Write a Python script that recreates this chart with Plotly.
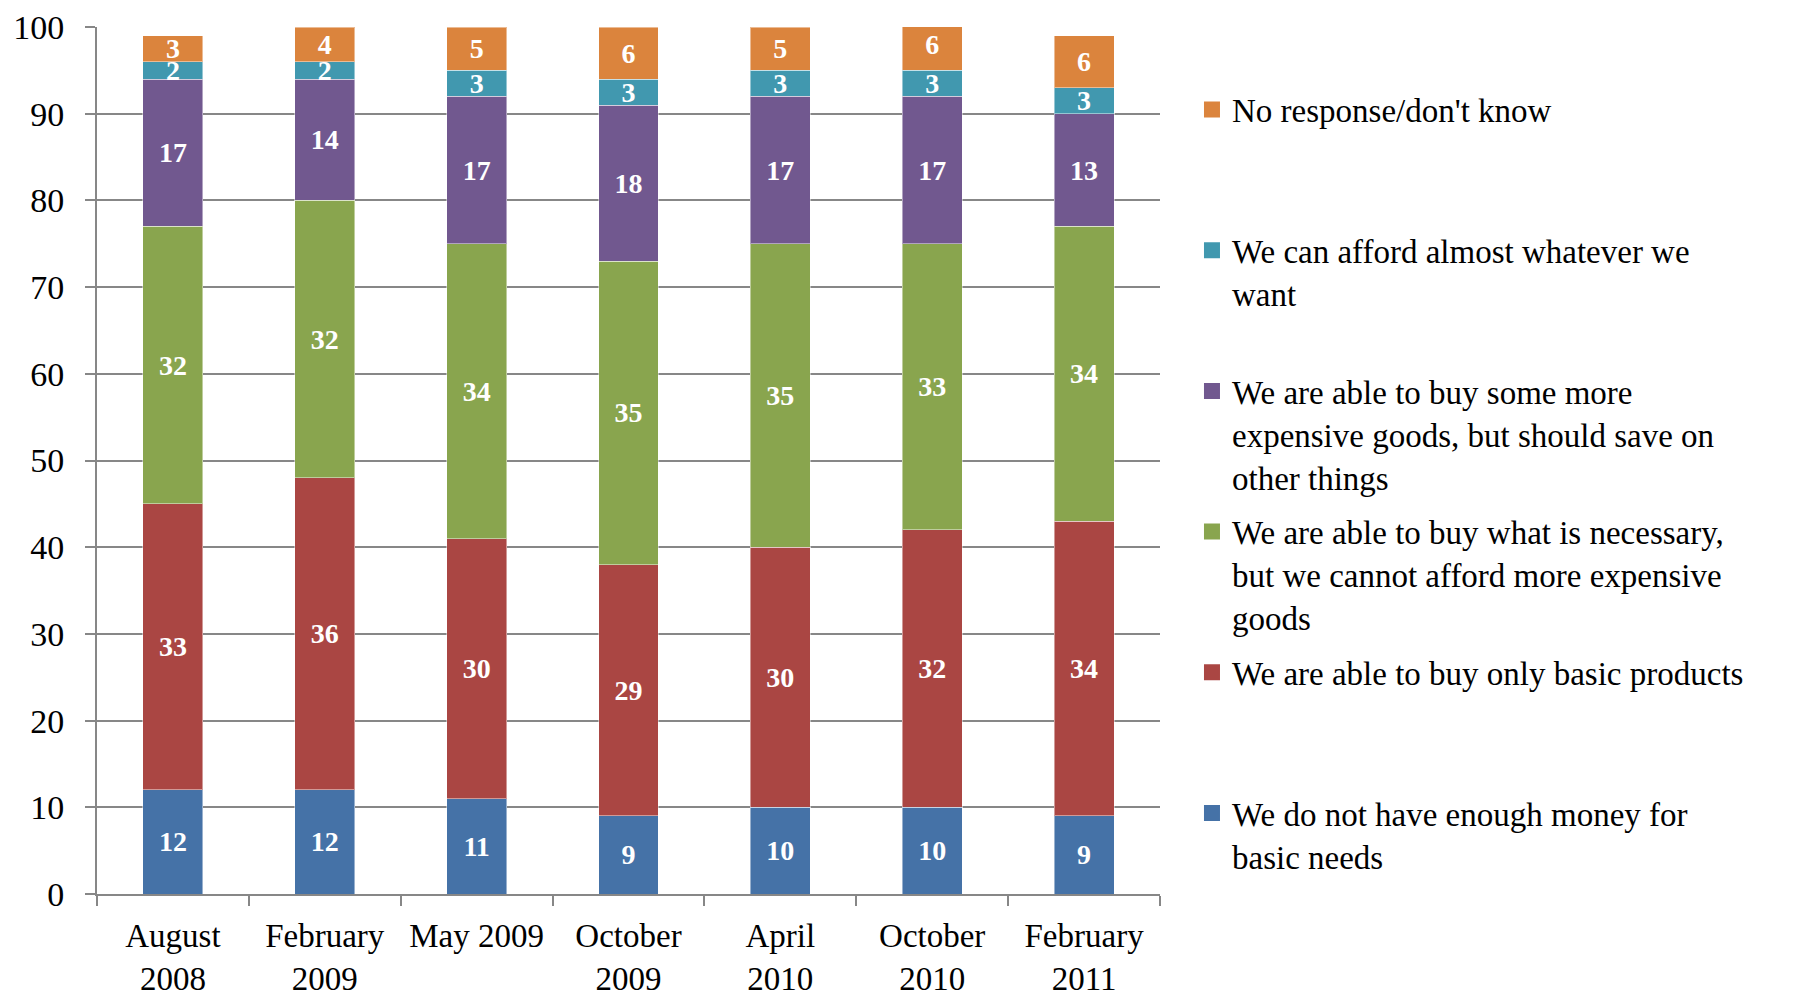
"""Stacked bar chart: how households describe their financial situation."""

import plotly.graph_objects as go

# Survey waves (x categories)
waves = [
    "August<br>2008",
    "February<br>2009",
    "May 2009",
    "October<br>2009",
    "April<br>2010",
    "October<br>2010",
    "February<br>2011",
]

# Shares per answer, bottom to top of each stack
no_money = [12, 12, 11, 9, 10, 10, 9]
only_basic = [33, 36, 30, 29, 30, 32, 34]
necessary = [32, 32, 34, 35, 35, 33, 34]
some_expensive = [17, 14, 17, 18, 17, 17, 13]
almost_anything = [2, 2, 3, 3, 3, 3, 3]
no_response = [3, 4, 5, 6, 5, 6, 6]

series_names = [
    "We do not have enough money for<br>basic needs",
    "We are able to buy only basic products",
    "We are able to buy what is necessary,<br>but we cannot afford more expensive<br>goods",
    "We are able to buy some more<br>expensive goods, but should save on<br>other things",
    "We can afford almost whatever we<br>want",
    "No response/don't know",
]
series_values = [no_money, only_basic, necessary, some_expensive, almost_anything, no_response]
series_colors = ["#4572A7", "#AA4643", "#89A54E", "#71588F", "#4198AF", "#DB843D"]

FONT = "Liberation Serif"


def pad_lines(name, n=3):
    # every legend entry gets the same number of lines so the slots are even
    lines = name.count("<br>") + 1
    return name + "<br>\u00a0" * (n - lines)


fig = go.Figure()
for i, (name, vals, color) in enumerate(zip(series_names, series_values, series_colors)):
    fig.add_trace(
        go.Bar(
            x=waves,
            y=vals,
            name=name,
            showlegend=False,
            marker=dict(color=color, line=dict(color="rgba(255,255,255,0.45)", width=1)),
            text=vals,
            texttemplate="%{text}",
            textposition="inside",
            insidetextanchor="middle",
            textangle=0,
            constraintext="none",
            textfont=dict(family=FONT, size=28, color="white", weight="bold"),
            hoverinfo="skip",
        )
    )

# legend entries: square swatches, top entry = top of the stack
for i, (name, color) in enumerate(zip(series_names, series_colors)):
    fig.add_trace(
        go.Scatter(
            x=[None],
            y=[None],
            mode="markers",
            name=pad_lines(name),
            legendgroup=str(i),
            legendrank=100 - i,
            marker=dict(symbol="square", size=19, color=color),
            hoverinfo="skip",
        )
    )

# page body adds an 8px offset, margins are set to compensate
fig.update_layout(
    barmode="stack",
    bargap=0.605,
    width=1798,
    height=994,
    margin=dict(l=89, r=646, t=19, b=108, autoexpand=False),
    paper_bgcolor="white",
    plot_bgcolor="white",
    font=dict(family=FONT, size=34, color="black"),
    showlegend=True,
    legend=dict(
        xref="container",
        yref="container",
        x=0.6585,
        y=0.926,
        xanchor="left",
        yanchor="top",
        traceorder="grouped",
        tracegroupgap=9,
        valign="top",
        maxheight=1.0,
        itemsizing="trace",
        font=dict(family=FONT, size=33, color="black"),
        bgcolor="rgba(0,0,0,0)",
    ),
)

fig.update_xaxes(
    type="category",
    showline=True,
    linecolor="#878787",
    linewidth=2,
    ticks="outside",
    tickson="boundaries",
    ticklen=10,
    tickcolor="#878787",
    tickwidth=2,
    showgrid=False,
    ticklabelstandoff=11,
    tickfont=dict(family=FONT, size=33, color="black"),
)

fig.update_yaxes(
    range=[0, 100],
    dtick=10,
    showline=True,
    linecolor="#878787",
    linewidth=2,
    ticks="outside",
    ticklen=10,
    tickcolor="#878787",
    tickwidth=2,
    showgrid=True,
    gridcolor="#878787",
    gridwidth=2,
    zeroline=False,
    ticklabelstandoff=14,
    tickfont=dict(family=FONT, size=34, color="black"),
)

fig.write_html("out.html")
